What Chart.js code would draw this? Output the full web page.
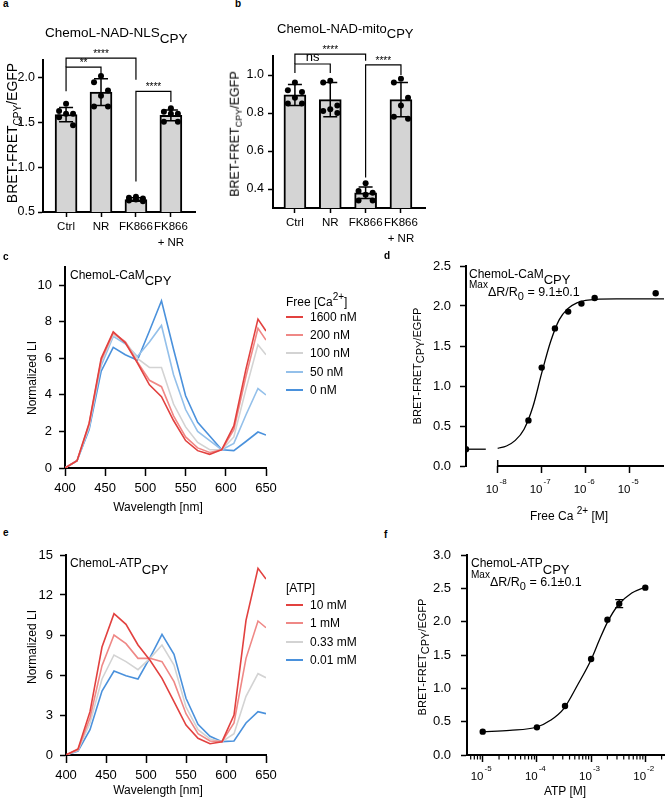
<!DOCTYPE html>
<html>
<head>
<meta charset="utf-8">
<script src="https://cdn.jsdelivr.net/npm/chart.js@4.4.1/dist/chart.umd.min.js"></script>
<style>
  html, body { margin: 0; padding: 0; background: #fff; }
  body { position: relative; width: 668px; height: 798px; overflow: hidden; font-family: "Liberation Sans", Arial, sans-serif; color: #000; }
  canvas { position: absolute; }
  .t { position: absolute; white-space: nowrap; line-height: 1; z-index: 2; }
  .c { transform: translate(-50%, -50%); }
  .r { transform: translate(-50%, -50%) rotate(-90deg); }
  .lt { font-weight: bold; font-size: 10px; }
  .dn { position: relative; }
</style>
</head>
<body>
<!-- panel letters -->
<div class="t lt" style="left:3px;top:-1px">a</div>
<div class="t lt" style="left:235px;top:-1px">b</div>
<div class="t lt" style="left:3px;top:252px">c</div>
<div class="t lt" style="left:384px;top:251px">d</div>
<div class="t lt" style="left:3px;top:528px">e</div>
<div class="t lt" style="left:384px;top:530px">f</div>

<!-- a / b -->
<div class="t" style="left:45px;top:26px;font-size:13.5px">ChemoL-NAD-NLS<span class="dn" style="top:6px">CPY</span></div>
<div class="t" style="left:277px;top:22px;font-size:13px">ChemoL-NAD-mito<span class="dn" style="top:5px">CPY</span></div>
<div class="t r" style="left:12px;top:133px;font-size:14px">BRET-FRET<span class="dn" style="font-size:10px;top:4px">CPY</span>/EGFP</div>
<div class="t r" style="left:235px;top:134px;font-size:12.5px">BRET-FRET<span class="dn" style="font-size:9px;top:3px">CPY</span>/EGFP</div>

<!-- c -->
<div class="t" style="left:70px;top:268px;font-size:12px">ChemoL-CaM<span class="dn" style="font-size:13px;top:6px">CPY</span></div>
<div class="t r" style="left:32px;top:378px;font-size:12px">Normalized LI</div>
<div class="t c" style="left:158px;top:507px;font-size:12px">Wavelength [nm]</div>
<div class="t" style="left:286px;top:296px;font-size:12px">Free [Ca<span class="dn" style="font-size:10px;top:-6px">2+</span>]</div>

<!-- d -->
<div class="t" style="left:469px;top:267px;font-size:12px">ChemoL-CaM<span class="dn" style="font-size:13px;top:6px">CPY</span></div>
<div class="t" style="left:469px;top:278px;font-size:10px">Max<span class="dn" style="font-size:12.5px;top:8px">ΔR/R<span class="dn" style="font-size:11px;top:4px">0</span> = 9.1±0.1</span></div>
<div class="t r" style="left:417px;top:366px;font-size:11px">BRET-FRET<span class="dn" style="top:3px">CPY</span>/EGFP</div>
<div class="t c" style="left:569px;top:516px;font-size:12px">Free Ca <span class="dn" style="font-size:10px;top:-6px">2+</span> [M]</div>

<!-- e -->
<div class="t" style="left:70px;top:556px;font-size:12px">ChemoL-ATP<span class="dn" style="font-size:13px;top:7px">CPY</span></div>
<div class="t r" style="left:32px;top:647px;font-size:12px">Normalized LI</div>
<div class="t c" style="left:158px;top:790px;font-size:12px">Wavelength [nm]</div>
<div class="t" style="left:286px;top:582px;font-size:12px">[ATP]</div>

<!-- f -->
<div class="t" style="left:471px;top:556px;font-size:12px">ChemoL-ATP<span class="dn" style="font-size:13px;top:7px">CPY</span></div>
<div class="t" style="left:471px;top:568px;font-size:10px">Max<span class="dn" style="font-size:12.5px;top:8px">ΔR/R<span class="dn" style="font-size:11px;top:4px">0</span> = 6.1±0.1</span></div>
<div class="t r" style="left:422px;top:657px;font-size:11px">BRET-FRET<span class="dn" style="top:3px">CPY</span>/EGFP</div>
<div class="t c" style="left:565px;top:791px;font-size:12px">ATP [M]</div>

<script>
// ---------- data ----------
const nadGroups = ["Ctrl", "NR", "FK866", "FK866\n+ NR"];

// a: nucleus
const nlsMean = [1.59, 1.84, 0.64, 1.58];
const nlsSD = [0.08, 0.15, 0.02, 0.06];
const nlsPoints = [
  [1.71, 1.63, 1.60, 1.60, 1.56, 1.47],
  [2.02, 1.95, 1.86, 1.80, 1.68, 1.68],
  [0.67, 0.66, 0.65, 0.64, 0.63, 0.62],
  [1.66, 1.62, 1.60, 1.60, 1.51, 1.51]
];
const nlsTicks = [0.5, 1.0, 1.5, 2.0];
// [from, to, bracket y, left leg end, right leg end, label]
const nlsSig = [
  [0, 2, 2.22, 2.12, 1.98, "****"],
  [0, 1, 2.12, 1.85, 2.03, "**"],
  [2, 3, 1.85, 0.84, 1.73, "****"]
];

// b: mitochondria
const mitoMean = [0.895, 0.87, 0.38, 0.87];
const mitoSD = [0.055, 0.09, 0.03, 0.09];
const mitoPoints = [
  [0.96, 0.92, 0.91, 0.88, 0.85, 0.85],
  [0.97, 0.96, 0.84, 0.82, 0.81, 0.80],
  [0.43, 0.39, 0.38, 0.37, 0.34, 0.34],
  [0.98, 0.96, 0.88, 0.84, 0.78, 0.77]
];
const mitoTicks = [0.4, 0.6, 0.8, 1.0];
const mitoSig = [
  [0, 2, 1.11, 1.058, 1.075, "****"],
  [0, 1, 1.058, 1.01, 1.01, "ns"],
  [2, 3, 1.053, 0.46, 1.0, "****"]
];

// c: spectra vs free Ca2+
const wavelengths = [400, 415, 430, 445, 460, 475, 490, 505, 520, 535, 550, 565, 580, 595, 610, 625, 640, 650];
const wlTicks = [400, 450, 500, 550, 600, 650];
const caLabels = ["1600 nM", "200 nM", "100 nM", "50 nM", "0 nM"];
const ca1600 = [0, 0.4, 2.45, 6.0, 7.45, 6.85, 5.75, 4.55, 3.9, 2.6, 1.5, 0.95, 0.75, 1.0, 2.3, 5.4, 8.15, 7.5];
const ca200 = [0, 0.4, 2.4, 5.9, 7.4, 6.9, 5.8, 4.8, 4.45, 2.85, 1.7, 1.1, 0.85, 1.0, 2.1, 5.0, 7.65, 7.0];
const ca100 = [0, 0.4, 2.3, 5.8, 7.3, 6.9, 6.0, 5.5, 5.5, 3.5, 2.25, 1.4, 1.0, 1.0, 1.7, 4.3, 6.75, 6.2];
const ca50 = [0, 0.4, 2.2, 5.6, 7.2, 6.8, 6.1, 6.9, 7.8, 5.1, 3.2, 2.0, 1.5, 1.0, 1.35, 2.9, 4.35, 4.0];
const ca0 = [0, 0.4, 2.1, 5.3, 6.6, 6.2, 5.9, 7.5, 9.15, 6.5, 3.95, 2.5, 1.75, 1.0, 0.95, 1.45, 1.97, 1.8];
const caTicks = [0, 2, 4, 6, 8, 10];

// d: titration vs free Ca2+
const caConcM = [5e-8, 1e-7, 2e-7, 4e-7, 8e-7, 1.6e-6, 3.9e-5];
const caRatio = [0.57, 1.23, 1.72, 1.93, 2.03, 2.10, 2.16];
const caZeroRatio = 0.21;
const caFitLogM = [-8, -7.8, -7.6, -7.4, -7.2, -7.0, -6.8, -6.6, -6.4, -6.2, -6.0, -5.7, -5.3, -4.8, -4.22];
const caFitRatio = [0.22, 0.25, 0.32, 0.46, 0.74, 1.16, 1.55, 1.83, 1.97, 2.04, 2.07, 2.085, 2.09, 2.09, 2.09];
const caXTicks = [1e-8, 1e-7, 1e-6, 1e-5];
const ratioTicksD = [0, 0.5, 1.0, 1.5, 2.0, 2.5];

// e: spectra vs ATP
const atpLabels = ["10 mM", "1 mM", "0.33 mM", "0.01 mM"];
const atp10 = [0, 0.45, 3.25, 8.1, 10.6, 9.8, 8.25, 7.1, 5.75, 4.0, 2.25, 1.25, 0.85, 1.0, 3.0, 10.1, 14.0, 13.2];
const atp1 = [0, 0.4, 2.8, 6.7, 9.0, 8.35, 7.25, 7.25, 7.0, 5.5, 3.1, 1.6, 1.05, 1.0, 2.4, 7.25, 10.05, 9.55];
const atp033 = [0, 0.35, 2.4, 5.7, 7.5, 7.0, 6.4, 7.25, 8.25, 6.75, 3.6, 1.9, 1.2, 1.0, 1.6, 4.4, 6.1, 5.8];
const atp001 = [0, 0.3, 1.9, 4.8, 6.3, 5.95, 5.7, 7.3, 9.05, 7.55, 4.25, 2.3, 1.4, 1.0, 1.05, 2.4, 3.25, 3.1];
const atpTicks = [0, 3, 6, 9, 12, 15];

// f: titration vs ATP
const atpConcM = [1e-5, 1e-4, 3.3e-4, 1e-3, 2e-3, 3.3e-3, 1e-2];
const atpRatio = [0.35, 0.415, 0.735, 1.44, 2.03, 2.27, 2.51];
const atpRatioSD = [0.01, 0.01, 0.02, 0.03, 0.03, 0.06, 0.02];
const atpFitLogM = [-5, -4.5, -4, -3.75, -3.5, -3.25, -3, -2.85, -2.7, -2.5, -2.25, -2];
const atpFitRatio = [0.35, 0.37, 0.42, 0.52, 0.70, 1.05, 1.43, 1.72, 1.99, 2.25, 2.43, 2.52];
const atpXTicks = [1e-5, 1e-4, 1e-3, 1e-2];
const ratioTicksF = [0, 0.5, 1.0, 1.5, 2.0, 2.5, 3.0];

// ---------- style ----------
const FONT = "'Liberation Sans', Arial, sans-serif";
const caColors = ["#e2413f", "#ef8886", "#d3d3d3", "#94c0ea", "#4a91dc"];
const atpColors = ["#e2413f", "#ef8886", "#d3d3d3", "#4a91dc"];
const JITTER = [0, -0.2, 0.2, 0, -0.2, 0.2];

Chart.defaults.font.family = FONT;
Chart.defaults.color = "#000";
Chart.defaults.plugins.legend.display = false;
Chart.defaults.plugins.tooltip.enabled = false;

function axis(type, min, max, ticks, font, tickLen, pad, cb) {
  return {
    type: type, min: min, max: max, offset: false,
    afterBuildTicks: (s) => { s.ticks = ticks.map(v => ({ value: v })); },
    border: { display: true, color: "#000", width: 2 },
    grid: { offset: false, drawOnChartArea: false, drawTicks: true, tickLength: tickLen, tickColor: "#000", tickWidth: 1.5 },
    ticks: { color: "#000", font: font, padding: pad, autoSkip: false, maxRotation: 0, minRotation: 0, callback: cb }
  };
}

// place a canvas so that its chart area lands on [L, T, R, B]
function makeChart(box, area, cfg) {
  const [x, y, w, h] = box;
  const [L, T, R, B] = area;
  const cv = document.createElement("canvas");
  cv.width = w; cv.height = h;
  cv.style.left = x + "px"; cv.style.top = y + "px";
  document.body.appendChild(cv);
  const o = cfg.options;
  o.responsive = false;
  o.animation = false;
  o.events = [];
  o.layout = { padding: { left: 0, top: T - y, right: x + w - R, bottom: 0 } };
  o.scales.x.afterFit = (s) => { s.height = y + h - B; s.paddingLeft = 0; s.paddingRight = 0; };
  o.scales.y.afterFit = (s) => { s.width = L - x; s.paddingTop = 0; s.paddingBottom = 0; };
  return new Chart(cv, cfg);
}

// "10" with a raised exponent under each decade tick
const powerLabels = (dy) => ({
  id: "powerLabels",
  afterDraw(chart) {
    const { ctx, chartArea: a, scales: { x } } = chart;
    ctx.save();
    ctx.fillStyle = "#000";
    ctx.textAlign = "left";
    ctx.textBaseline = "middle";
    x.ticks.forEach((t) => {
      const px = x.getPixelForValue(t.value);
      const yc = a.bottom + dy;
      ctx.font = "11.5px " + FONT;
      ctx.fillText("10", px - 12, yc);
      const w = ctx.measureText("10").width;
      ctx.font = "8px " + FONT;
      ctx.fillText(String(Math.round(Math.log10(t.value))), px - 12 + w + 1, yc - 8);
    });
    ctx.restore();
  }
});

const errorBars = (means, sds) => ({
  id: "errorBars",
  afterDatasetDraw(chart, args) {
    if (args.meta.type !== "bar") return;
    const { ctx, scales: { x, y } } = chart;
    ctx.save();
    ctx.strokeStyle = "#000";
    ctx.lineWidth = 1.5;
    means.forEach((m, i) => {
      const px = x.getPixelForValue(i);
      const hi = y.getPixelForValue(m + sds[i]);
      const lo = y.getPixelForValue(m - sds[i]);
      ctx.beginPath();
      ctx.moveTo(px, hi); ctx.lineTo(px, lo);
      ctx.moveTo(px - 7, hi); ctx.lineTo(px + 7, hi);
      ctx.moveTo(px - 7, lo); ctx.lineTo(px + 7, lo);
      ctx.stroke();
    });
    ctx.restore();
  }
});

const brackets = (sig) => ({
  id: "brackets",
  afterDraw(chart) {
    const { ctx, scales: { x, y } } = chart;
    ctx.save();
    ctx.strokeStyle = "#000";
    ctx.fillStyle = "#000";
    ctx.lineWidth = 1.2;
    sig.forEach(([a, b, top, endA, endB, label]) => {
      const xa = x.getPixelForValue(a), xb = x.getPixelForValue(b), yt = y.getPixelForValue(top);
      ctx.beginPath();
      ctx.moveTo(xa, y.getPixelForValue(endA));
      ctx.lineTo(xa, yt);
      ctx.lineTo(xb, yt);
      ctx.lineTo(xb, y.getPixelForValue(endB));
      ctx.stroke();
      const ns = label === "ns";
      ctx.font = (ns ? "13px " : "10px ") + FONT;
      ctx.textAlign = "center";
      ctx.textBaseline = "alphabetic";
      ctx.fillText(label, (xa + xb) / 2, yt - (ns ? 3 : 1));
    });
    ctx.restore();
  }
});

function barPanel(box, area, means, sds, points, yMin, yMax, yTicks, xMin, xMax, sig, yPad) {
  const dots = [];
  points.forEach((vals, i) => vals.forEach((v, j) => dots.push({ x: i + JITTER[j], y: v })));
  return makeChart(box, area, {
    type: "bar",
    data: {
      datasets: [
        { type: "scatter", data: dots, pointRadius: 3, pointBackgroundColor: "#000", pointBorderWidth: 0, order: 1 },
        { type: "bar", data: means.map((m, i) => ({ x: i, y: m })), backgroundColor: "#d4d4d4",
          borderColor: "#000", borderWidth: 2, barThickness: 22, order: 2 }
      ]
    },
    options: {
      scales: {
        x: axis("linear", xMin, xMax, [0, 1, 2, 3], { size: 11.5, lineHeight: 1.4 }, 5, 2, (v) => nadGroups[v].split("\n")),
        y: axis("linear", yMin, yMax, yTicks, { size: 12.5 }, 5, yPad, (v) => v.toFixed(1))
      }
    },
    plugins: [errorBars(means, sds), brackets(sig)]
  });
}

function spectrumPanel(box, area, series, colors, yMax, yTicks) {
  return makeChart(box, area, {
    type: "line",
    data: {
      datasets: series.map((s, i) => ({
        data: wavelengths.map((w, k) => ({ x: w, y: s[k] })),
        borderColor: colors[i], borderWidth: 1.6, pointRadius: 0, tension: 0
      }))
    },
    options: {
      scales: {
        x: axis("linear", 400, 650, wlTicks, { size: 13 }, 8, 5, (v) => String(v)),
        y: axis("linear", 0, yMax, yTicks, { size: 13 }, 6, 7, (v) => String(v))
      }
    }
  });
}

function legend(x, yFirst, step, labels, colors) {
  labels.forEach((lab, i) => {
    const y = yFirst + i * step;
    const ln = document.createElement("div");
    ln.style.cssText = "position:absolute;left:" + x + "px;top:" + (y - 1) + "px;width:17px;height:2px;background:" + colors[i];
    const tx = document.createElement("div");
    tx.className = "t";
    tx.style.cssText = "left:" + (x + 24) + "px;top:" + (y - 6) + "px;font-size:12px";
    tx.textContent = lab;
    document.body.append(ln, tx);
  });
}

// ---------- a, b ----------
barPanel([0, 40, 215, 220], [43, 60, 195, 212], nlsMean, nlsSD, nlsPoints, 0.5, 2.2, nlsTicks, -0.66, 3.69, nlsSig, 3);
barPanel([232, 40, 210, 220], [273, 56, 425, 208], mitoMean, mitoSD, mitoPoints, 0.3, 1.1, mitoTicks, -0.62, 3.68, mitoSig, 4);

// ---------- c, e ----------
spectrumPanel([20, 262, 260, 240], [65, 267, 266, 468], [ca1600, ca200, ca100, ca50, ca0], caColors, 11, caTicks);
legend(286, 317, 18.2, caLabels, caColors);
spectrumPanel([20, 548, 260, 245], [66, 555, 266, 755], [atp10, atp1, atp033, atp001], atpColors, 15, atpTicks);
legend(286, 605, 18.4, atpLabels, atpColors);

// ---------- d ----------
const D_MIN = Math.pow(10, -8.72), D_MAX = Math.pow(10, -4.22);
const D_GAP = Math.pow(10, -8.27); // end of the zero-calcium segment of the broken axis
const axisBreak = {
  id: "axisBreak",
  afterDraw(chart) {
    const { ctx, chartArea: a, scales: { x } } = chart;
    const xb = x.getPixelForValue(caXTicks[0]);
    ctx.save();
    ctx.strokeStyle = "#000";
    ctx.lineWidth = 2;
    ctx.beginPath(); ctx.moveTo(xb, a.bottom); ctx.lineTo(a.right, a.bottom); ctx.stroke();
    ctx.lineWidth = 1.5;
    ctx.beginPath(); ctx.moveTo(xb, a.bottom - 6); ctx.lineTo(xb, a.bottom); ctx.stroke();
    ctx.restore();
  }
};
const dX = axis("logarithmic", D_MIN, D_MAX, caXTicks, { size: 12 }, 7, 9, () => "");
dX.border = { display: false };
dX.ticks.display = false;
makeChart([420, 258, 248, 240], [466, 266, 668, 466], {
  type: "scatter",
  data: {
    datasets: [
      { data: caConcM.map((c, i) => ({ x: c, y: caRatio[i] })).concat([{ x: D_MIN, y: caZeroRatio }]),
        pointRadius: 3.2, pointBackgroundColor: "#000", pointBorderWidth: 0, order: 1 },
      { data: caFitLogM.map((e, i) => ({ x: Math.pow(10, e), y: caFitRatio[i] })), showLine: true,
        cubicInterpolationMode: "monotone", borderColor: "#000", borderWidth: 1.3, pointRadius: 0, order: 2 },
      { data: [{ x: D_MIN, y: caZeroRatio }, { x: D_GAP, y: caZeroRatio }], showLine: true,
        borderColor: "#000", borderWidth: 1.3, pointRadius: 0, order: 3 }
    ]
  },
  options: {
    scales: {
      x: dX,
      y: axis("linear", 0, 2.5, ratioTicksD, { size: 13 }, 6, 9, (v) => v.toFixed(1))
    }
  },
  plugins: [axisBreak, powerLabels(24)]
});

// ---------- f ----------
const minorTicks = {
  id: "minorTicks",
  afterDraw(chart) {
    const { ctx, chartArea: a, scales: { x } } = chart;
    ctx.save();
    ctx.strokeStyle = "#000";
    ctx.lineWidth = 1.2;
    ctx.beginPath();
    for (let e = -6; e <= -2; e++) {
      for (let k = 2; k <= 9; k++) {
        const v = k * Math.pow(10, e);
        if (v < x.min || v > x.max) continue;
        const px = x.getPixelForValue(v);
        ctx.moveTo(px, a.bottom); ctx.lineTo(px, a.bottom + 4.5);
      }
    }
    ctx.stroke();
    ctx.restore();
  }
};
const pointErrors = {
  id: "pointErrors",
  afterDatasetsDraw(chart) {
    const { ctx, scales: { x, y } } = chart;
    ctx.save();
    ctx.strokeStyle = "#000";
    ctx.lineWidth = 1.3;
    atpConcM.forEach((c, i) => {
      const px = x.getPixelForValue(c);
      const hi = y.getPixelForValue(atpRatio[i] + atpRatioSD[i]);
      const lo = y.getPixelForValue(atpRatio[i] - atpRatioSD[i]);
      if (lo - hi < 7) return;
      ctx.beginPath();
      ctx.moveTo(px, hi); ctx.lineTo(px, lo);
      ctx.moveTo(px - 4, hi); ctx.lineTo(px + 4, hi);
      ctx.moveTo(px - 4, lo); ctx.lineTo(px + 4, lo);
      ctx.stroke();
    });
    ctx.restore();
  }
};
const fX = axis("logarithmic", Math.pow(10, -5.29), Math.pow(10, -1.655), atpXTicks, { size: 12 }, 7, 7, () => "");
fX.ticks.display = false;
makeChart([425, 548, 243, 245], [467, 555, 668, 755], {
  type: "scatter",
  data: {
    datasets: [
      { data: atpConcM.map((c, i) => ({ x: c, y: atpRatio[i] })),
        pointRadius: 3.2, pointBackgroundColor: "#000", pointBorderWidth: 0, order: 1 },
      { data: atpFitLogM.map((e, i) => ({ x: Math.pow(10, e), y: atpFitRatio[i] })), showLine: true,
        cubicInterpolationMode: "monotone", borderColor: "#000", borderWidth: 1.3, pointRadius: 0, order: 2 }
    ]
  },
  options: {
    scales: {
      x: fX,
      y: axis("linear", 0, 3, ratioTicksF, { size: 13 }, 6, 10, (v) => v.toFixed(1))
    }
  },
  plugins: [minorTicks, pointErrors, powerLabels(22)]
});
</script>
</body>
</html>
